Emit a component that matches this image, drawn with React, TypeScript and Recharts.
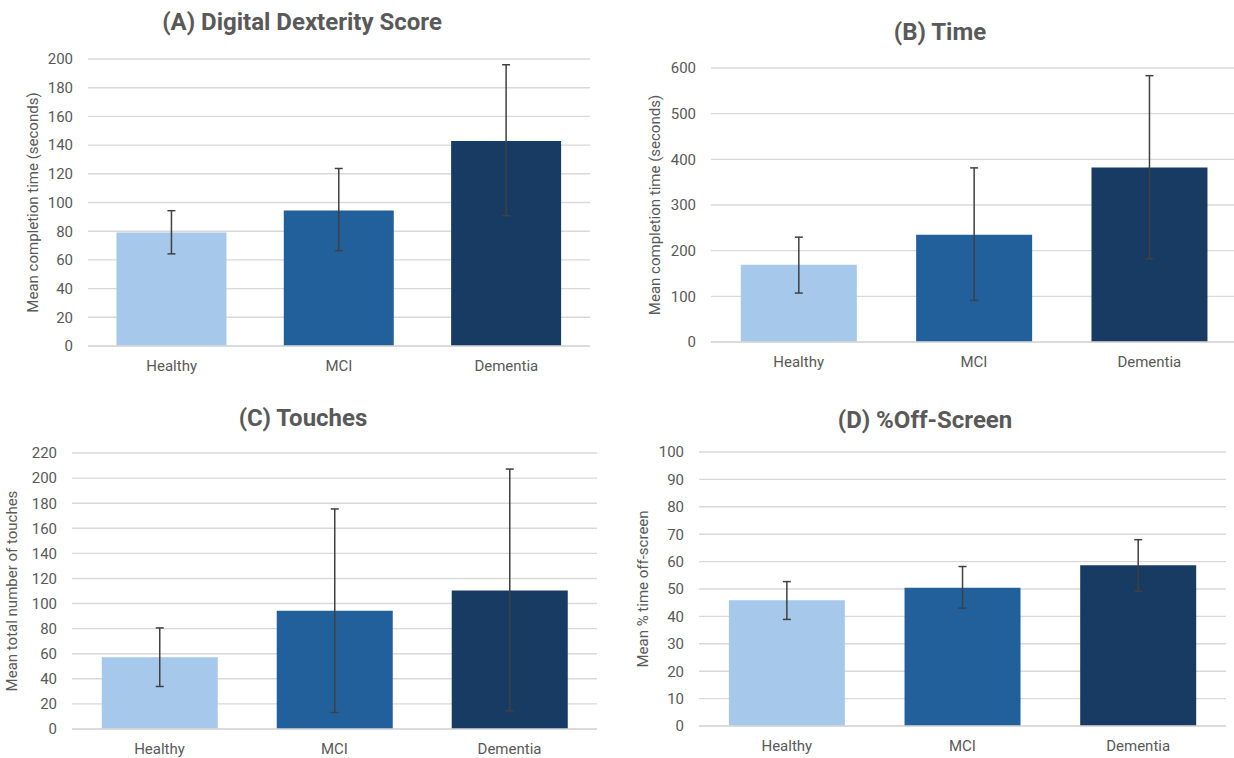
import { BarChart, Bar, XAxis, YAxis, CartesianGrid, ErrorBar, Cell, Label } from 'recharts'

const groups = ['Healthy', 'MCI', 'Dementia']
const barColors = ['#A6C8EA', '#22609C', '#173B62']

// (A) Digital Dexterity Score
const dexMean = [79.1, 94.5, 142.8]
const dexLow = [64.2, 66.5, 90.8]
const dexHigh = [94.3, 123.7, 196]
const dexTicks = [0, 20, 40, 60, 80, 100, 120, 140, 160, 180, 200]

// (B) Time
const timeMean = [169, 234.7, 382]
const timeLow = [107.2, 91.1, 182.3]
const timeHigh = [229.6, 381.3, 583.2]
const timeTicks = [0, 100, 200, 300, 400, 500, 600]

// (C) Touches
const touchMean = [57.1, 94.3, 110.3]
const touchLow = [33.9, 13.1, 14.4]
const touchHigh = [80.6, 175.4, 207.2]
const touchTicks = [0, 20, 40, 60, 80, 100, 120, 140, 160, 180, 200, 220]

// (D) %Off-Screen
const offMean = [45.9, 50.5, 58.7]
const offLow = [38.9, 43.0, 49.2]
const offHigh = [52.7, 58.2, 68.0]
const offTicks = [0, 10, 20, 30, 40, 50, 60, 70, 80, 90, 100]

const FONT = 'Roboto, "Liberation Sans", sans-serif'
const TEXT = '#595959'
const GRID = '#D9D9D9'

const rows = (mean: number[], low: number[], high: number[]) =>
  groups.map((g, i) => ({ name: g, mean: mean[i], err: [mean[i] - low[i], high[i] - mean[i]] }))

interface PanelProps {
  title: string
  yLabel: string
  mean: number[]
  low: number[]
  high: number[]
  ticks: number[]
  left: number
  top: number
  width: number
  height: number
  margin: { top: number; right: number; bottom: number; left: number }
  yWidth: number
  titleX: number
  titleY: number
}

function Panel(p: PanelProps) {
  const data = rows(p.mean, p.low, p.high)
  const max = p.ticks[p.ticks.length - 1]
  return (
    <>
      <div style={{
        position: 'absolute', left: p.titleX - 200, top: p.titleY - 14, width: 400, height: 28,
        lineHeight: '28px', textAlign: 'center', fontFamily: FONT, fontWeight: 700, fontSize: 24, color: TEXT,
      }}>{p.title}</div>
      <div style={{ position: 'absolute', left: p.left, top: p.top }}>
        <BarChart width={p.width} height={p.height} data={data} margin={p.margin} barCategoryGap="17%">
          <CartesianGrid vertical={false} stroke={GRID} strokeWidth={1.4} />
          <XAxis dataKey="name" height={20} tickLine={false} axisLine={{ stroke: GRID, strokeWidth: 1.4 }}
            tickSize={0} tickMargin={14} tick={{ fill: TEXT, fontSize: 15, fontFamily: FONT }} />
          <YAxis domain={[0, max]} ticks={p.ticks} interval={0} width={p.yWidth}
            tickLine={false} axisLine={false} tickSize={0} tickMargin={15}
            tick={{ fill: TEXT, fontSize: 15, fontFamily: FONT }}>
            <Label value={p.yLabel} angle={-90} position="insideLeft" offset={7}
              style={{ textAnchor: 'middle', fill: TEXT, fontSize: 15, fontFamily: FONT }} />
          </YAxis>
          <Bar dataKey="mean" isAnimationActive={false}>
            {data.map((d, i) => <Cell key={d.name} fill={barColors[i]} />)}
            <ErrorBar dataKey="err" width={4} stroke="#404040" strokeWidth={1.5} direction="y" />
          </Bar>
        </BarChart>
      </div>
    </>
  )
}

export default function App() {
  return (
    <div style={{ position: 'absolute', left: 0, top: 0, width: 1234, height: 758, overflow: 'hidden', background: '#fff' }}>
      <Panel title="(A) Digital Dexterity Score" yLabel="Mean completion time (seconds)"
        mean={dexMean} low={dexLow} high={dexHigh} ticks={dexTicks}
        left={0} top={0} width={600} height={385}
        margin={{ top: 59, right: 10, bottom: 19, left: 26 }} yWidth={62}
        titleX={302} titleY={22} />
      <Panel title="(B) Time" yLabel="Mean completion time (seconds)"
        mean={timeMean} low={timeLow} high={timeHigh} ticks={timeTicks}
        left={620} top={0} width={620} height={380}
        margin={{ top: 68, right: 3, bottom: 18, left: 28 }} yWidth={63}
        titleX={940} titleY={32} />
      <Panel title="(C) Touches" yLabel="Mean total number of touches"
        mean={touchMean} low={touchLow} high={touchHigh} ticks={touchTicks}
        left={0} top={385} width={600} height={373}
        margin={{ top: 68, right: 3, bottom: 9, left: 5 }} yWidth={67}
        titleX={303} titleY={418} />
      <Panel title="(D) %Off-Screen" yLabel="Mean % time off-screen"
        mean={offMean} low={offLow} high={offHigh} ticks={offTicks}
        left={620} top={385} width={614} height={373}
        margin={{ top: 67, right: 8, bottom: 12, left: 16 }} yWidth={63}
        titleX={925} titleY={420} />
    </div>
  )
}
